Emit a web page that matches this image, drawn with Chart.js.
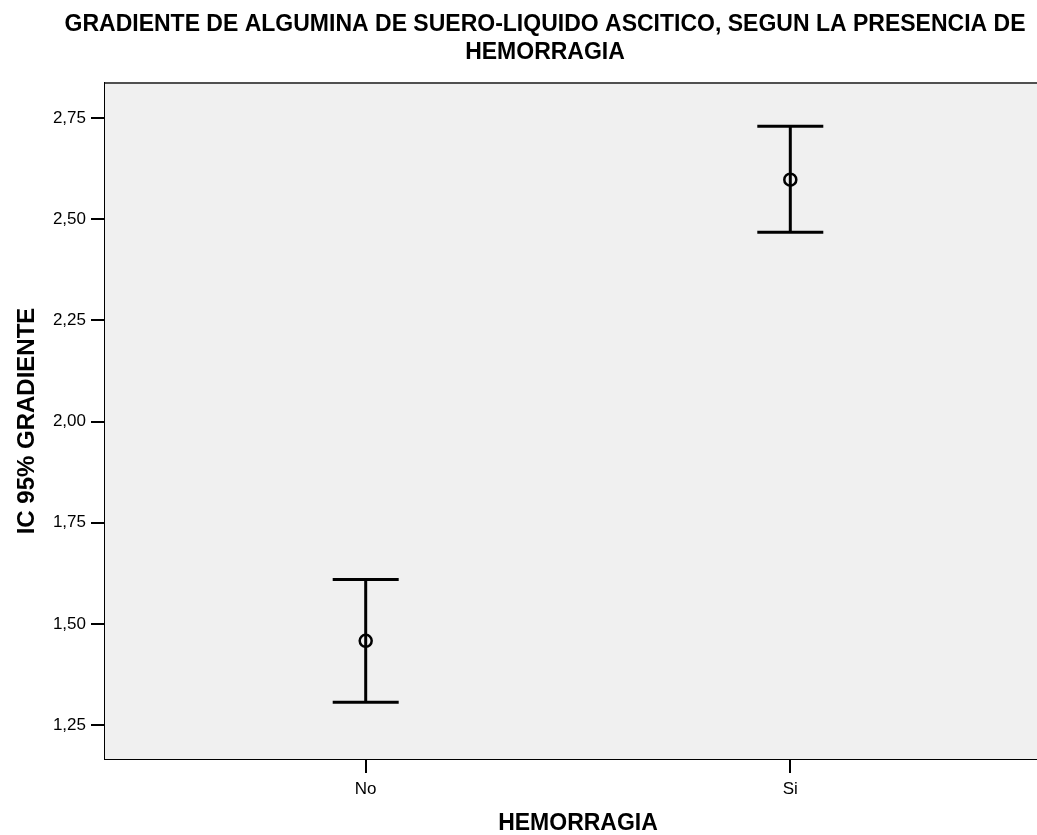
<!DOCTYPE html>
<html>
<head>
<meta charset="utf-8">
<script src="https://cdn.jsdelivr.net/npm/chart.js@4/dist/chart.umd.min.js"></script>
<style>
  html, body { margin: 0; padding: 0; background: #ffffff; overflow: hidden; }
  #wrap { width: 1090px; height: 835px; }
</style>
</head>
<body>
<div id="wrap"><canvas id="chart" width="1090" height="835"></canvas></div>
<script>
// values
const categories = ['No', 'Si'];
const means = [1.458, 2.598];
const lowerCI = [1.306, 2.468];
const upperCI = [1.610, 2.730];
const yTicks = [1.25, 1.50, 1.75, 2.00, 2.25, 2.50, 2.75];

const FONT = "'Liberation Sans', Arial, Helvetica, sans-serif";

// stems of the error bars, one small line per category
const stemSets = categories.map((c, i) => ({
    type: 'line',
    label: 'ic-' + c,
    data: [{ x: i + 1, y: lowerCI[i] }, { x: i + 1, y: upperCI[i] }],
    borderColor: '#000000',
    borderWidth: 3,
    pointRadius: 0,
    showLine: true
}));

// caps at both ends
const capPoints = [];
categories.forEach((c, i) => {
    capPoints.push({ x: i + 1, y: lowerCI[i] });
    capPoints.push({ x: i + 1, y: upperCI[i] });
});

// plot background and frame
const framePlugin = {
    id: 'frame',
    beforeDatasetsDraw(chart) {
        const { ctx, chartArea: a } = chart;
        ctx.save();
        ctx.fillStyle = '#f0f0f0';
        ctx.fillRect(a.left, a.top, a.right - a.left, a.bottom - a.top);
        ctx.strokeStyle = '#505050';
        ctx.lineWidth = 2;
        ctx.beginPath();
        ctx.moveTo(a.left, a.top);
        ctx.lineTo(a.right, a.top);
        ctx.lineTo(a.right, a.bottom);
        ctx.stroke();
        ctx.restore();
    }
};

new Chart(document.getElementById('chart'), {
    type: 'scatter',
    data: {
        datasets: [
            ...stemSets,
            {
                label: 'caps',
                data: capPoints,
                pointStyle: 'line',
                pointRadius: 33,
                borderColor: '#000000',
                borderWidth: 3
            },
            {
                label: 'media',
                data: means.map((m, i) => ({ x: i + 1, y: m })),
                pointStyle: 'circle',
                pointRadius: 6,
                borderColor: '#000000',
                backgroundColor: 'rgba(0,0,0,0)',
                borderWidth: 2.5
            }
        ]
    },
    options: {
        responsive: false,
        animation: false,
        events: [],
        layout: { padding: 0 },
        plugins: {
            legend: { display: false },
            tooltip: { enabled: false },
            title: {
                display: true,
                text: ['GRADIENTE DE ALGUMINA DE SUERO-LIQUIDO ASCITICO, SEGUN LA PRESENCIA DE', 'HEMORRAGIA'],
                color: '#000000',
                font: { family: FONT, size: 23, weight: 'bold', lineHeight: 28 / 23 },
                padding: { top: 11, bottom: 16 }
            }
        },
        scales: {
            x: {
                type: 'linear',
                min: 0.386,
                max: 2.614,
                afterBuildTicks: (scale) => {
                    scale.ticks = categories.map((c, i) => ({ value: i + 1 }));
                },
                afterFit: (scale) => { scale.height = 76; },
                ticks: {
                    color: '#000000',
                    font: { family: FONT, size: 17 },
                    padding: 6,
                    maxRotation: 0,
                    callback: (v) => categories[v - 1]
                },
                grid: {
                    drawOnChartArea: false,
                    drawTicks: true,
                    tickLength: 14,
                    color: '#000000',
                    lineWidth: 2
                },
                border: { display: true, color: '#000000', width: 2 },
                title: {
                    display: true,
                    text: 'HEMORRAGIA',
                    color: '#000000',
                    font: { family: FONT, size: 23, weight: 'bold', lineHeight: 1 },
                    padding: { top: 0, bottom: 0 }
                }
            },
            y: {
                type: 'linear',
                min: 1.166,
                max: 2.837,
                afterBuildTicks: (scale) => {
                    scale.ticks = yTicks.map(v => ({ value: v }));
                },
                afterFit: (scale) => { scale.width = 105; },
                ticks: {
                    color: '#000000',
                    font: { family: FONT, size: 17 },
                    padding: 5,
                    callback: (v) => v.toFixed(2).replace('.', ',')
                },
                grid: {
                    drawOnChartArea: false,
                    drawTicks: true,
                    tickLength: 14,
                    color: '#000000',
                    lineWidth: 2
                },
                border: { display: true, color: '#000000', width: 2 },
                title: {
                    display: true,
                    text: 'IC 95% GRADIENTE',
                    color: '#000000',
                    font: { family: FONT, size: 24, weight: 'bold', lineHeight: 1 },
                    padding: { top: 15, bottom: 0 }
                }
            },
            // empty strip on the right, the frame runs past the window edge
            yRight: {
                type: 'linear',
                position: 'right',
                display: true,
                afterFit: (scale) => { scale.width = 39; },
                ticks: { display: false },
                grid: { display: false, drawTicks: false },
                border: { display: false }
            }
        }
    },
    plugins: [framePlugin]
});
</script>
</body>
</html>
